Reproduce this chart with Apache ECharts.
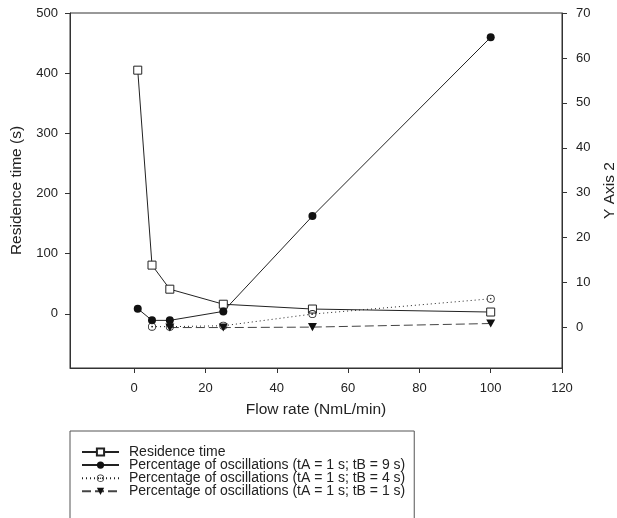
<!DOCTYPE html>
<html><head><meta charset="utf-8">
<script src="https://cdn.jsdelivr.net/npm/echarts@6/dist/echarts.min.js"></script>
<style>html,body{margin:0;padding:0;background:#fff}#c{width:617px;height:518px}</style>
</head><body><div id="c"></div>
<script>
// Data
const residenceX = [1, 5, 10, 25, 50, 100];
const residenceY = [405, 81, 41, 16, 8, 3];
const osc9X = [1, 5, 10, 25, 50, 100];
const osc9Y = [4.2, 1.6, 1.6, 3.6, 24.8, 64.6];
const osc4X = [5, 10, 25, 50, 100];
const osc4Y = [0.2, 0.2, 0.4, 3.0, 6.4];
const osc1X = [10, 25, 50, 100];
const osc1Y = [0, 0, 0.1, 0.9];
const xTicks = [0, 20, 40, 60, 80, 100, 120];
const leftTicks = [0, 100, 200, 300, 400, 500];
const rightTicks = [0, 10, 20, 30, 40, 50, 60, 70];
const seriesNames = [
  'Residence time',
  'Percentage of oscillations (tA = 1 s; tB = 9 s)',
  'Percentage of oscillations (tA = 1 s; tB = 4 s)',
  'Percentage of oscillations (tA = 1 s; tB = 1 s)'
];

const zip = (xs, ys) => xs.map((x, i) => [x, ys[i]]);
const FONT = 'Liberation Sans, Arial, sans-serif';
const INK = '#222';
const dotCircle = 'path://M0,-5A5,5 0 1,1 0,5A5,5 0 1,1 0,-5Z M0,-4A4,4 0 1,0 0,4A4,4 0 1,0 0,-4Z M0,-1A1,1 0 1,1 0,1A1,1 0 1,1 0,-1Z';
const downTri = 'path://M0,0L10,0L5,9Z';

const chart = echarts.init(document.getElementById('c'));
chart.setOption({
  animation: false,
  backgroundColor: '#fff',
  textStyle: { fontFamily: FONT, color: INK },
  grid: { left: 70, right: 55, top: 13, bottom: 150, containLabel: false, outerBoundsMode: 'none',
          show: true, borderColor: '#333', borderWidth: 1 },
  xAxis: {
    type: 'value', min: -18, max: 120,
    name: 'Flow rate (NmL/min)', nameLocation: 'middle', nameGap: 34,
    nameTextStyle: { fontSize: 15.5, color: INK, fontFamily: FONT },
    axisLine: { show: true, onZero: false, lineStyle: { color: '#333' } },
    axisTick: { show: true, length: 5, customValues: xTicks, lineStyle: { color: '#333' } },
    axisLabel: { customValues: xTicks, fontSize: 13, color: INK, margin: 14, fontFamily: FONT },
    splitLine: { show: false }
  },
  yAxis: [{
    type: 'value', min: -90, max: 500, position: 'left',
    name: 'Residence time (s)', nameLocation: 'middle', nameGap: 45, nameRotate: 90,
    nameTextStyle: { fontSize: 15.5, color: INK, fontFamily: FONT },
    axisLine: { show: true, onZero: false, lineStyle: { color: '#333' } },
    axisTick: { show: true, length: 5, customValues: leftTicks, lineStyle: { color: '#333' } },
    axisLabel: { customValues: leftTicks, fontSize: 13, color: INK, margin: 12, fontFamily: FONT },
    splitLine: { show: false }
  }, {
    type: 'value', min: -9, max: 70, position: 'right',
    name: 'Y Axis 2', nameLocation: 'middle', nameGap: 39, nameRotate: 90,
    nameTextStyle: { fontSize: 15.5, color: INK, fontFamily: FONT },
    axisLine: { show: true, onZero: false, lineStyle: { color: '#333' } },
    axisTick: { show: true, length: 5, customValues: rightTicks, lineStyle: { color: '#333' } },
    axisLabel: { customValues: rightTicks, fontSize: 13, color: INK, margin: 14, fontFamily: FONT },
    splitLine: { show: false }
  }],
  legend: {
    type: 'plain', orient: 'vertical', left: 70, top: 431, height: 56,
    padding: [14, 9, 30, 11],
    itemGap: -0.9, itemWidth: 37, itemHeight: 9,
    borderColor: '#555', borderWidth: 1, borderRadius: 0,
    textStyle: { fontSize: 14, color: INK, fontFamily: FONT, lineHeight: 13, padding: [0, 0, 0, 5] },
    data: seriesNames
  },
  series: [{
    name: seriesNames[0], type: 'line', yAxisIndex: 0,
    data: zip(residenceX, residenceY),
    symbol: 'rect', symbolSize: 8,
    lineStyle: { color: INK, width: 1 },
    itemStyle: { color: '#fff', borderColor: INK, borderWidth: 1 }
  }, {
    name: seriesNames[1], type: 'line', yAxisIndex: 1,
    data: zip(osc9X, osc9Y),
    symbol: 'circle', symbolSize: 8,
    lineStyle: { color: INK, width: 1 },
    itemStyle: { color: '#111', borderColor: '#111', borderWidth: 0 }
  }, {
    name: seriesNames[2], type: 'line', yAxisIndex: 1,
    data: zip(osc4X, osc4Y),
    symbol: dotCircle, symbolSize: 8, symbolKeepAspect: true,
    lineStyle: { color: INK, width: 1, type: [1, 3] },
    itemStyle: { color: INK, borderWidth: 0 }
  }, {
    name: seriesNames[3], type: 'line', yAxisIndex: 1,
    data: zip(osc1X, osc1Y),
    symbol: downTri, symbolSize: 9, symbolKeepAspect: true,
    lineStyle: { color: '#444', width: 1, type: [9, 4] },
    itemStyle: { color: '#111', borderWidth: 0 }
  }]
});
</script></body></html>
